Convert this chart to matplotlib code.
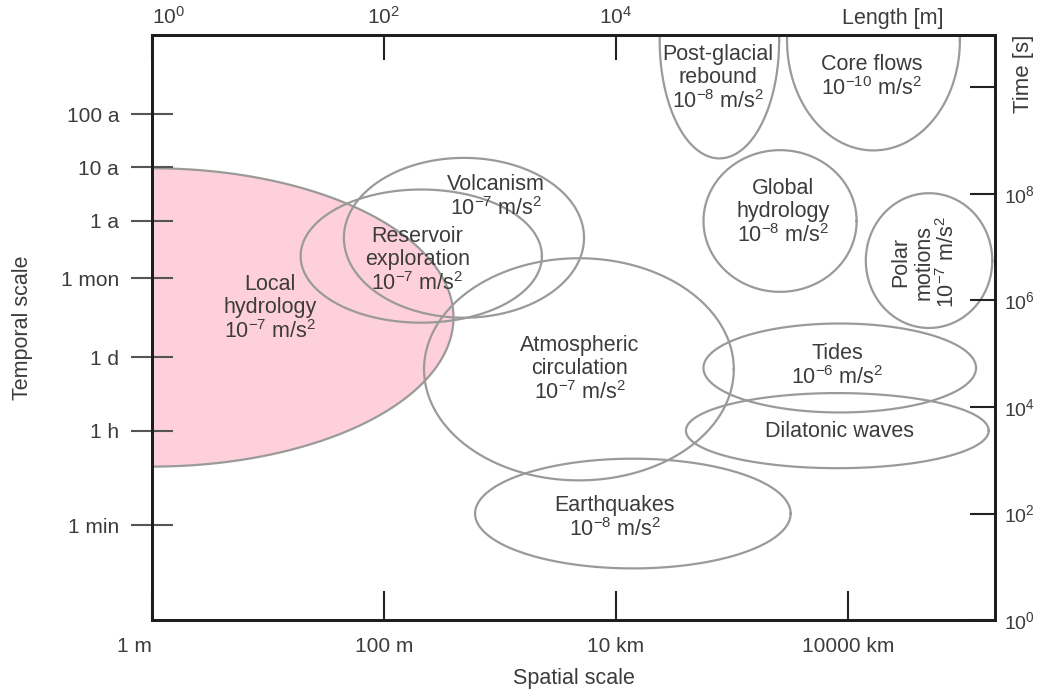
import numpy as np
import matplotlib
matplotlib.use('Agg')
import matplotlib.pyplot as plt

plt.rcParams['font.family'] = ['Liberation Sans', 'DejaVu Sans']
plt.rcParams['mathtext.fontset'] = 'custom'
plt.rcParams['mathtext.rm'] = 'Liberation Sans'
plt.rcParams['mathtext.it'] = 'Liberation Sans:italic'

# ── data: phenomena as ellipses in log10 space ───────────────────────────────
# centre length [m], centre time [s], span in decades (length, time)
names = ['Local hydrology', 'Reservoir exploration', 'Volcanism',
         'Atmospheric circulation', 'Earthquakes', 'Post-glacial rebound',
         'Core flows', 'Global hydrology', 'Polar motions', 'Tides',
         'Dilatonic waves']
labels = ['Local\nhydrology\n$10^{-7}$ m/s$^2$',
          'Reservoir\nexploration\n$10^{-7}$ m/s$^2$',
          'Volcanism\n$10^{-7}$ m/s$^2$',
          'Atmospheric\ncirculation\n$10^{-7}$ m/s$^2$',
          'Earthquakes\n$10^{-8}$ m/s$^2$',
          'Post-glacial\nrebound\n$10^{-8}$ m/s$^2$',
          'Core flows\n$10^{-10}$ m/s$^2$',
          'Global\nhydrology\n$10^{-8}$ m/s$^2$',
          'Polar\nmotions\n$10^{-7}$ m/s$^2$',
          'Tides\n$10^{-6}$ m/s$^2$',
          'Dilatonic waves']
centre_len  = [1.0, 2.1e2, 4.9e2, 4.8e3, 1.4e4, 7.8e4, 1.66e6, 2.6e5, 5.0e6, 8.5e5, 8.1e5]
centre_time = [4.8e5, 6.8e6, 1.5e7, 5.1e4, 1.0e2, 7.6e10, 7.6e10, 3.1e7, 5.6e6, 5.4e4, 3.6e3]
span_len    = [5.2, 2.08, 2.07, 2.67, 2.72, 1.03, 1.49, 1.32, 1.09, 2.35, 2.61]
span_time   = [5.6, 2.5, 3.0, 4.17, 2.06, 4.43, 4.13, 2.66, 2.53, 1.67, 1.41]
label_len   = [10.5, 1.95e2, 9.3e2, 4.9e3, 9.8e3, 7.6e4, 1.6e6, 2.75e5, 4.6e6, 8.1e5, 8.5e5]
label_time  = [7.1e5, 5.6e6, 8.7e7, 5.1e4, 8.1e1, 1.48e10, 1.55e10, 4.4e7, 5.2e6, 6.0e4, 3.4e3]
rotated     = [False, False, False, False, False, False, False, False, True, False, False]

time_ticks  = [60, 3600, 86400, 2.63e6, 3.156e7, 3.156e8, 3.156e9]
time_names  = ['1 min', '1 h', '1 d', '1 mon', '1 a', '10 a', '100 a']
len_ticks   = [1, 1e2, 1e4, 1e6]
len_names   = ['1 m', '100 m', '10 km', '10000 km']
sec_ticks   = [1, 1e2, 1e4, 1e6, 1e8, 1e10]
sec_names   = ['$10^0$', '$10^2$', '$10^4$', '$10^6$', '$10^8$', '']
top_ticks   = [1, 1e2, 1e4]
top_names   = ['$10^0$', '$10^2$', '$10^4$']

XLIM = (1, 10**7.27)
YLIM = (1, 10**10.98)
EDGE = '#9a9a9a'
PINK = '#fed0db'
TXT = '#3c3c3c'

# ── figure ────────────────────────────────────────────────────────────────────
fig = plt.figure(figsize=(10.4, 6.89), dpi=100)
ax = fig.add_axes([0.146, 0.1, 0.811, 0.849])
ax.set_xscale('log')
ax.set_yscale('log')
ax.set_xlim(*XLIM)
ax.set_ylim(*YLIM)

t = np.linspace(0, 2 * np.pi, 400)
for i, name in enumerate(names):
    lx = np.log10(centre_len[i]) + span_len[i] / 2 * np.cos(t)
    ly = np.log10(centre_time[i]) + span_time[i] / 2 * np.sin(t)
    if name == 'Local hydrology':
        ax.fill(10**lx, 10**ly, facecolor=PINK, edgecolor=EDGE, lw=1.6, zorder=1)
    else:
        ax.plot(10**lx, 10**ly, color=EDGE, lw=1.6, zorder=2)
    ax.text(label_len[i], label_time[i], labels[i], ha='center', va='center',
            fontsize=15.5, color=TXT, linespacing=1.12,
            rotation=90 if rotated[i] else 0, zorder=3)

# left / bottom axes
ax.set_yticks(time_ticks, time_names)
ax.set_xticks(len_ticks, len_names)
ax.minorticks_off()
ax.tick_params(axis='y', direction='inout', length=30, width=1.5, color='#555555',
               labelsize=15, labelcolor=TXT, pad=8.5)
ax.tick_params(axis='x', direction='in', length=21, width=1.5, color='#222222',
               labelsize=15, labelcolor=TXT, pad=12)
ax.get_xticklabels()[0].set_ha('right')
ax.set_ylabel('Temporal scale', fontsize=15.5, color=TXT, labelpad=20)
ax.set_xlabel('Spatial scale', fontsize=15.5, color=TXT, labelpad=9)
for s in ax.spines.values():
    s.set_linewidth(2.0)
    s.set_color('#1e1e1e')

# right axis: time in seconds
axr = ax.twinx()
axr.set_yscale('log')
axr.set_ylim(*YLIM)
axr.set_yticks(sec_ticks, sec_names)
axr.minorticks_off()
axr.tick_params(axis='y', direction='in', length=18, width=1.5, color='#222222',
                labelsize=14, labelcolor=TXT, pad=6.5)

# top axis: length in metres
axt = ax.twiny()
axt.set_xscale('log')
axt.set_xlim(*XLIM)
axt.set_xticks(top_ticks, top_names)
axt.minorticks_off()
axt.tick_params(axis='x', direction='in', length=18, width=1.5, color='#222222',
                labelsize=15, labelcolor=TXT, pad=5)
axt.get_xticklabels()[0].set_ha('left')
for a in (axr, axt):
    for s in a.spines.values():
        s.set_linewidth(2.0)
        s.set_color('#1e1e1e')

fig.text(0.858, 0.973, 'Length [m]', fontsize=15.5, color=TXT, ha='center', va='center')
fig.text(0.984, 0.893, 'Time [s]', fontsize=16, color=TXT, ha='center', va='center',
         rotation=90)

plt.savefig('out.png', dpi=100)
plt.close()
